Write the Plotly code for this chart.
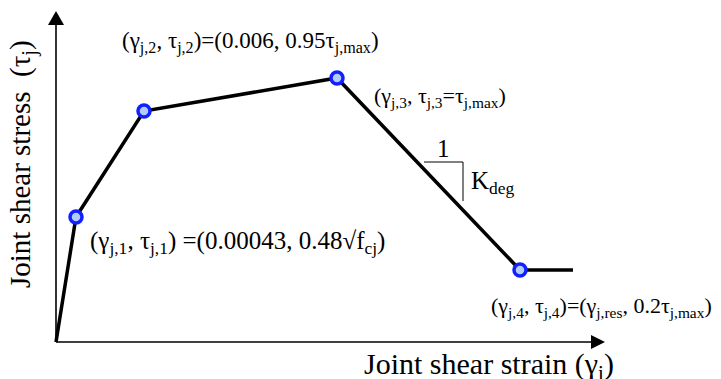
import plotly.graph_objects as go

# Schematic backbone curve (schematic units: origin at 0,0)
strain = [0, 20, 88, 281, 464, 517]
stress = [0, 125, 231, 264, 72, 72]
marker_idx = [1, 2, 3, 4]

labels = [
    "(γ<sub>j,1</sub>, τ<sub>j,1</sub>) =(0.00043, 0.48√f<sub>cj</sub>)",
    "(γ<sub>j,2</sub>, τ<sub>j,2</sub>)=(0.006, 0.95τ<sub>j,max</sub>)",
    "(γ<sub>j,3</sub>, τ<sub>j,3</sub>=τ<sub>j,max</sub>)",
    "(γ<sub>j,4</sub>, τ<sub>j,4</sub>)=(γ<sub>j,res</sub>, 0.2τ<sub>j,max</sub>)",
]
x_title = "Joint shear strain (γ<sub>i</sub>)"
y_title = "Joint shear stress  (τ<sub>j</sub>)"

PAGE_OFF = 8          # default body margin of the page
W, H = 721 - PAGE_OFF, 379 - PAGE_OFF
X0, Y0 = 56 - PAGE_OFF, 342 - PAGE_OFF  # figure pixel location of the origin
XR = [-X0, W - X0]
YR = [-(H - Y0), Y0]
X_END = 549
Y_END = 331

FONT = "Liberation Serif"

fig = go.Figure()
fig.add_trace(go.Scatter(x=strain, y=stress, mode="lines",
                         line=dict(color="black", width=3.5),
                         hoverinfo="skip", showlegend=False))
fig.add_trace(go.Scatter(x=[strain[i] for i in marker_idx],
                         y=[stress[i] for i in marker_idx],
                         mode="markers",
                         marker=dict(size=12, color="#b4cbf5",
                                     line=dict(color="#1020ff", width=3.5)),
                         hoverinfo="skip", showlegend=False))

shapes = [
    dict(type="line", x0=0, y0=0, x1=X_END - 10, y1=0, line=dict(color="black", width=1.6)),
    dict(type="line", x0=0, y0=0, x1=0, y1=Y_END - 10, line=dict(color="black", width=1.6)),
    dict(type="path", path=f"M {X_END} 0 L {X_END-14} 7 L {X_END-14} -7 Z",
         fillcolor="black", line=dict(color="black", width=0)),
    dict(type="path", path=f"M 0 {Y_END} L -8 {Y_END-14} L 8 {Y_END-14} Z",
         fillcolor="black", line=dict(color="black", width=0)),
    # slope triangle
    dict(type="line", x0=368, y0=180, x1=407, y1=180, line=dict(color="black", width=1)),
    dict(type="line", x0=407, y0=180, x1=407, y1=141, line=dict(color="black", width=1)),
]

def ann(x, y, text, size=23, xanchor="left", angle=0):
    return dict(x=x, y=y, xref="x", yref="y", text=text, showarrow=False,
                xanchor=xanchor, yanchor="middle", textangle=angle,
                font=dict(family=FONT, size=size, color="black"))

annotations = [
    ann(32, 100, labels[0], size=25),
    ann(64, 300, labels[1]),
    ann(316, 245, labels[2], size=22),
    ann(433, 35, labels[3], size=22),
    ann(387, 194, "1", xanchor="center", size=25),
    ann(413, 160, "K<sub>deg</sub>", size=25),
    ann(306, -24, x_title, size=30),
    ann(-34, 178, y_title, size=29, xanchor="center", angle=-90),
]

fig.update_layout(
    width=W, height=H,
    margin=dict(l=0, r=0, t=0, b=0),
    paper_bgcolor="white", plot_bgcolor="white",
    xaxis=dict(range=XR, visible=False, fixedrange=True),
    yaxis=dict(range=YR, visible=False, fixedrange=True),
    shapes=shapes, annotations=annotations,
)
fig.write_html("out.html")
